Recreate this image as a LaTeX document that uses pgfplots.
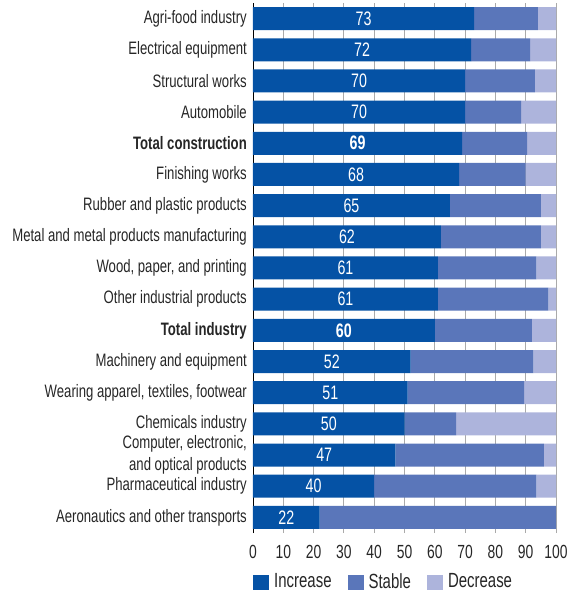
\documentclass[border=0pt]{standalone}
\usepackage{pgfplots}
\pgfplotsset{compat=1.18}
\usepackage{pgfplotstable}
\usepackage{fontspec}
\setmainfont{Liberation Sans}[FakeStretch=0.73]
\definecolor{incc}{HTML}{0552A5}
\definecolor{stac}{HTML}{5A76BA}
\definecolor{decc}{HTML}{ADB4DC}
\definecolor{gridc}{HTML}{AAAAAA}
\pgfplotstableread{
y inc stable dec
16 73 21 6
15 72 19.5 8.5
14 70 23 7
13 70 18.5 11.5
12 69 21.5 9.5
11 68 22 10
10 65 30 5
9 62 33 5
8 61 32.5 6.5
7 61 36.5 2.5
6 60 32 8
5 52 40.5 7.5
4 51 38.5 10.5
3 50 17 33
2 47 49 4
1 40 53.5 6.5
0 22 78 0
}\data
\begin{document}
\fontsize{18}{22}\selectfont
\begin{tikzpicture}
\begin{axis}[name=ax,
  scale only axis, width=303pt, height=530pt,
  xbar stacked, bar width=23pt,
  xmin=0, xmax=100, ymin=-0.5, ymax=16.5,
  ytick={0,...,16},
  yticklabels={Aeronautics and other transports,Pharmaceutical industry,{Computer, electronic,\\and optical products},Chemicals industry,{Wearing apparel, textiles, footwear},Machinery and equipment,\textbf{Total industry},Other industrial products,{Wood, paper, and printing},Metal and metal products manufacturing,Rubber and plastic products,Finishing works,\textbf{Total construction},Automobile,Structural works,Electrical equipment,Agri-food industry},
  yticklabel style={align=right, text=black!85},
  xtick={0,10,...,100},
  xticklabel style={yshift=-6pt, text=black!85, font=\fontsize{19}{22}\selectfont},
  /pgf/number format/assume math mode=true,
  xmajorgrids, grid style={gridc, line width=0.9pt},
  axis lines*=left, axis line style={-},
  x axis line style={draw=none},
  y axis line style={black, line width=0.9pt},
  major tick length=0pt,
  legend style={at={(0,-0.072)}, anchor=north west, legend columns=3, draw=none, inner sep=0pt,
    font=\fontsize{20.5}{22}\selectfont, text=black!85,
    /tikz/every odd column/.append style={column sep=3pt},
    /tikz/every even column/.append style={column sep=14pt}},
  legend cell align=left,
  legend image code/.code={\fill[#1] (0pt,-7.5pt) rectangle (16pt,7.5pt);},
]
\addplot[fill=incc, draw=none] table[x=inc, y=y]{\data};
\addplot[fill=stac, draw=none] table[x=stable, y=y]{\data};
\addplot[fill=decc, draw=none] table[x=dec, y=y]{\data};
\legend{Increase,Stable,Decrease}
\end{axis}
\begin{axis}[scale only axis, width=303pt, height=530pt,
  xmin=0, xmax=100, ymin=-0.5, ymax=16.5, hide axis,
  every node near coord/.append style={text=white, anchor=center, font=\fontsize{19.5}{22}\selectfont}]
\addplot[draw=none, mark=none, nodes near coords, point meta=explicit symbolic] coordinates {
(36.5,16) [73]
(36,15) [72]
(35,14) [70]
(35,13) [70]
(34.5,12) [\textbf{69}]
(34,11) [68]
(32.5,10) [65]
(31,9) [62]
(30.5,8) [61]
(30.5,7) [61]
(30,6) [\textbf{60}]
(26,5) [52]
(25.5,4) [51]
(25,3) [50]
(23.5,2) [47]
(20,1) [40]
(11,0) [22]
};
\end{axis}
\pgfresetboundingbox
\path ([shift={(-253pt,-60pt)}]ax.south west) rectangle ([shift={(13pt,3pt)}]ax.north east);
\end{tikzpicture}
\end{document}
